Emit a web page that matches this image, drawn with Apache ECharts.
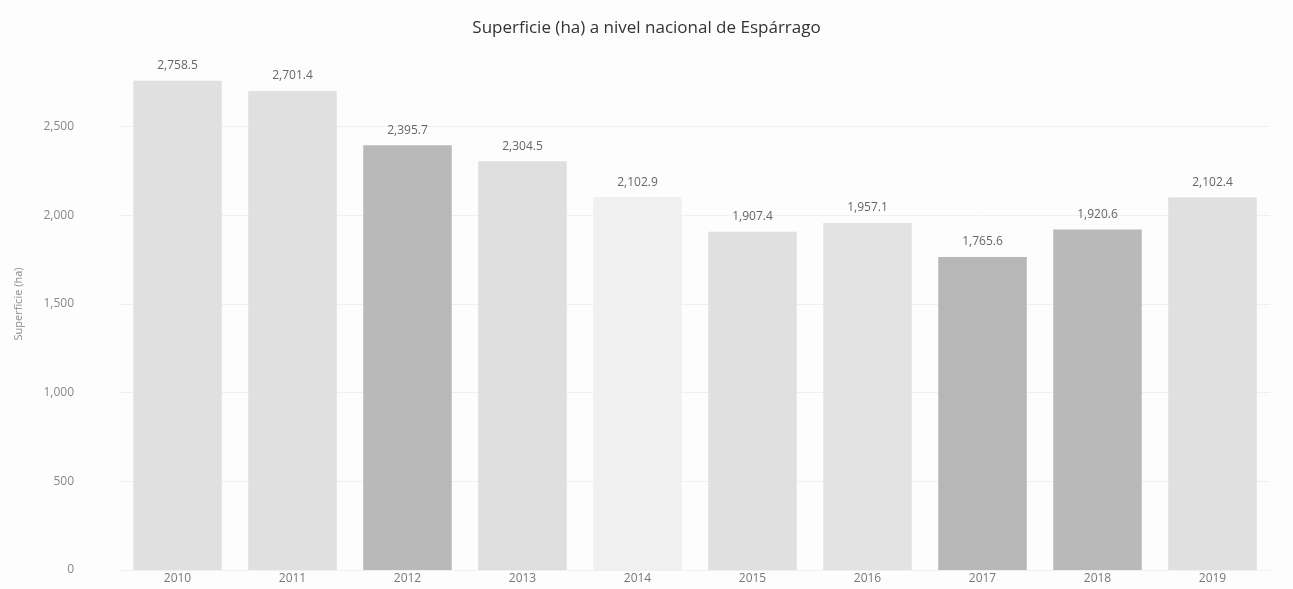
<!DOCTYPE html>
<html>
<head>
<meta charset="utf-8">
<style>
  html, body { margin: 0; padding: 0; background: #fdfdfd; }
  #chart { width: 1293px; height: 589px; }
</style>
<script src="https://cdn.jsdelivr.net/npm/echarts@6/dist/echarts.min.js"></script>
</head>
<body>
<div id="chart"></div>
<script>
var years = ['2010', '2011', '2012', '2013', '2014', '2015', '2016', '2017', '2018', '2019'];
var superficie = [2758.5, 2701.4, 2395.7, 2304.5, 2102.9, 1907.4, 1957.1, 1765.6, 1920.6, 2102.4];
var barColors = ['#e0e0e0', '#e0e0e0', '#b9b9b9', '#dedede', '#f0f0f0', '#e0e0e0', '#e3e3e3', '#b7b7b7', '#b9b9b9', '#e0e0e0'];

var fmt = function (v, d) {
    return v.toLocaleString('en-US', { minimumFractionDigits: d, maximumFractionDigits: d });
};

var chart = echarts.init(document.getElementById('chart'));
chart.setOption({
    backgroundColor: '#fdfdfd',
    textStyle: { fontFamily: 'Open Sans' },
    title: {
        text: 'Superficie (ha) a nivel nacional de Espárrago',
        left: 'center',
        top: 15,
        textStyle: { fontSize: 17, fontWeight: 'normal', color: '#333' }
    },
    grid: { left: 120, right: 23, top: 38, bottom: 19 },
    xAxis: {
        type: 'category',
        data: years,
        axisTick: { show: false },
        axisLine: { show: false },
        axisLabel: { color: '#777', fontSize: 12, margin: 3 }
    },
    yAxis: {
        type: 'value',
        min: 0,
        max: 3000,
        interval: 500,
        name: 'Superficie (ha)',
        nameLocation: 'middle',
        nameGap: 96,
        nameTextStyle: { color: '#888', fontSize: 11 },
        axisLabel: {
            color: '#888',
            fontSize: 12,
            margin: 46,
            showMaxLabel: false,
            formatter: function (v) { return fmt(v, 0); }
        },
        splitLine: { showMaxLine: false, lineStyle: { color: '#f0f0f0' } }
    },
    series: [{
        type: 'bar',
        data: superficie.map(function (v, i) {
            return { value: v, itemStyle: { color: barColors[i] } };
        }),
        barCategoryGap: '23%',
        label: {
            show: true,
            position: 'top',
            distance: 9,
            color: '#666',
            fontSize: 12,
            formatter: function (p) { return fmt(p.value, 1); }
        }
    }]
});
</script>
</body>
</html>
